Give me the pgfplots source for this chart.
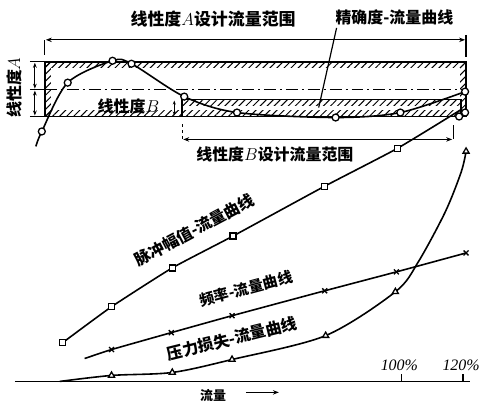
\documentclass[border=0pt]{standalone}
\usepackage{pgfplots}
\pgfplotsset{compat=1.18}
\usepackage{fontspec}
\setmainfont{Noto Sans CJK SC}
\newfontfamily\serif{Liberation Serif}
\usetikzlibrary{arrows.meta,patterns.meta}
\begin{document}
\begin{tikzpicture}
\begin{axis}[
  hide axis, scale only axis,
  width=483pt, height=410pt,
  xmin=0, xmax=483, ymin=0, ymax=410,
  y dir=reverse, clip=false,
  cycle list={{black, mark=none}},
  every axis plot/.append style={black, line width=1.6pt},
]
\path (rel axis cs:0,0) rectangle (rel axis cs:1,1);
% hatched bands (linearity A / B)
\pgfplotsset{hatch/.style={draw=none, pattern={Lines[angle=45,distance=5pt,line width=1pt]}, pattern color=black}}
\addplot[hatch] coordinates {(45,62)(468,62)(468,68)(45,68)} -- cycle;
\addplot[hatch] coordinates {(45,111)(468,111)(468,117)(45,117)} -- cycle;
\addplot[hatch] coordinates {(45,62)(51,62)(51,117)(45,117)} -- cycle;
\addplot[hatch] coordinates {(462,62)(468,62)(468,117)(462,117)} -- cycle;
\addplot[hatch] coordinates {(183,100)(463,100)(463,106)(183,106)} -- cycle;
\addplot coordinates {(45,62)(468,62)(468,117)(45,117)} -- cycle;
\addplot coordinates {(183,117)(183,100)(463,100)(463,117)};
\addplot[dash pattern=on 12pt off 4pt on 2pt off 4pt, line width=1pt] coordinates {(45,90)(468,90)};
% dimension lines
\addplot[line width=1.2pt] coordinates {(45,55)(45,40)};
\addplot[line width=1.2pt] coordinates {(468,35)(468,57)};
\addplot[line width=1.2pt, {Stealth[length=6pt]}-{Stealth[length=6pt]}] coordinates {(46,40)(467,40)};
\addplot[line width=1.2pt] coordinates {(30,62)(45,62)};
\addplot[line width=1.2pt] coordinates {(30,90)(45,90)};
\addplot[line width=1.2pt] coordinates {(30,117)(45,117)};
\addplot[line width=1.2pt, {Stealth[length=5pt]}-{Stealth[length=5pt]}] coordinates {(35,63)(35,89)};
\addplot[line width=1.2pt, {Stealth[length=5pt]}-{Stealth[length=5pt]}] coordinates {(35,91)(35,116)};
\addplot[line width=1.2pt, {Stealth[length=4pt]}-{Stealth[length=4pt]}] coordinates {(175,101)(175,116)};
\addplot[line width=1.2pt, dashed] coordinates {(183,125)(183,140)};
\addplot[line width=1.2pt] coordinates {(455,126)(455,140)};
\addplot[line width=1.2pt, {Stealth[length=6pt]}-{Stealth[length=6pt]}] coordinates {(184,140)(454,140)};
\addplot[line width=1.2pt] coordinates {(338,28)(320,108)};
% accuracy - flow
\addplot[smooth, tension=0.5] coordinates {(36,147)(42,132)(68,83)(113,61)(132,64)(185,97)(238,113)(337,118)(402,113)(467,92)};
\addplot[only marks, mark=*, mark size=3.5pt, mark options={fill=white, draw=black, line width=1.3pt}] coordinates {(42,132)(68,83)(113,61)(132,64)(185,97)(238,113)(337,118)(402,113)(467,92)(467,113)(461,117)};
% pulse amplitude - flow
\addplot[smooth, tension=0.3, mark=square*, mark size=3pt, mark options={fill=white, line width=1.3pt}, mark indices={1,2,3,4,5,6}] coordinates {(63,344)(112,308)(173,269)(234,237)(326,187)(399,149)(463,110)};
% frequency - flow
\addplot[smooth, tension=0.3, mark=x, mark size=3.5pt, mark options={line width=1.3pt}, mark indices={2,3,4,5,6,7}] coordinates {(85,360)(112,351)(172,334)(233,317)(326,292)(398,273)(468,254)};
% pressure loss - flow
\addplot[smooth, tension=0.5, mark=triangle*, mark size=3.5pt, mark options={fill=white, line width=1.3pt}, mark indices={2,3,4,5,6,10}] coordinates {(60,383)(112,377)(173,374)(233,361)(327,337)(397,293)(420,263)(447,213)(463,173)(468,152)};
% flow axis
\addplot[line width=1.4pt] coordinates {(15,383)(472,383)};
\addplot[line width=1.2pt] coordinates {(403,383)(403,376)};
\addplot[line width=1.2pt] coordinates {(465,383)(465,376)};
\addplot[line width=1.2pt, -{Stealth[length=6pt]}] coordinates {(247,394)(280,394)};
% labels
\node[font=\fontsize{17}{17}\selectfont\bfseries] at (axis cs:214,19) {线性度$A$设计流量范围};
\node[font=\fontsize{16}{16}\selectfont\bfseries] at (axis cs:396,17) {精确度-流量曲线};
\node[font=\fontsize{16}{16}\selectfont\bfseries, rotate=90] at (axis cs:14,88) {线性度$A$};
\node[font=\fontsize{16}{16}\selectfont\bfseries] at (axis cs:129,107) {线性度$B$};
\node[font=\fontsize{16}{16}\selectfont\bfseries] at (axis cs:276,155) {线性度$B$设计流量范围};
\node[font=\fontsize{16}{16}\selectfont\bfseries, rotate=28] at (axis cs:195,231) {脉冲幅值-流量曲线};
\node[font=\fontsize{15}{15}\selectfont\bfseries, rotate=15] at (axis cs:247,290) {频率-流量曲线};
\node[font=\fontsize{16}{16}\selectfont\bfseries, rotate=14] at (axis cs:233,340) {压力损失-流量曲线};
\node[font=\fontsize{13}{13}\selectfont\bfseries] at (axis cs:214,397) {流量};
\node[font=\fontsize{16}{16}\serif\itshape] at (axis cs:401,367) {100\%};
\node[font=\fontsize{16}{16}\serif\itshape] at (axis cs:463,367) {120\%};
\end{axis}
\end{tikzpicture}
\end{document}
